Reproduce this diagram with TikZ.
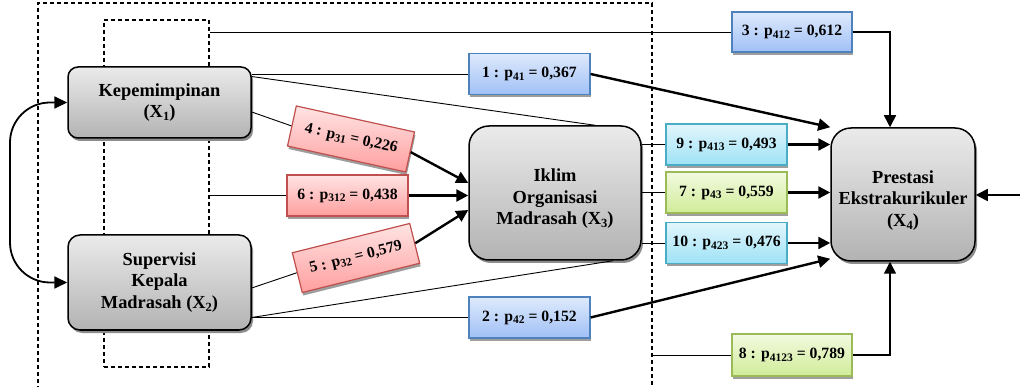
\documentclass[tikz,border=0pt]{standalone}
\usepackage{fontspec}
\setmainfont{Liberation Serif}
\usetikzlibrary{arrows.meta,shadows,calc}

\definecolor{blueE}{RGB}{79,129,189}
\definecolor{blueT}{RGB}{222,234,252}
\definecolor{blueD}{RGB}{160,192,246}
\definecolor{redE}{RGB}{192,80,77}
\definecolor{redT}{RGB}{255,228,228}
\definecolor{redD}{RGB}{255,158,158}
\definecolor{greenE}{RGB}{155,187,89}
\definecolor{greenT}{RGB}{242,250,224}
\definecolor{greenD}{RGB}{208,236,152}
\definecolor{cyanE}{RGB}{75,172,198}
\definecolor{cyanT}{RGB}{226,246,252}
\definecolor{cyanD}{RGB}{158,226,246}

% lowered small indices
\newcommand\lo[1]{\raisebox{-2.5pt}{\fontsize{11.5}{12}\selectfont #1}}
\newcommand\xs[1]{\raisebox{-3pt}{\fontsize{12.5}{13}\selectfont #1}}
% three centred lines, drawn a little below the node centre
\newcommand\lowstack[3]{\raisebox{-6pt}[\height][\depth]{\begin{tabular}{@{}c@{}}#1\\#2\\#3\end{tabular}}}

\begin{document}
\begin{tikzpicture}[x=1pt,y=-1pt,
  varbox/.style={draw=black, line width=1.5pt, align=center, inner sep=0pt,
    top color=black!8, bottom color=black!30,
    drop shadow={shadow xshift=2pt, shadow yshift=-3pt, fill=black!45, opacity=1},
    font=\fontsize{18.4}{21.5}\selectfont\bfseries},
  coef/.style={line width=1.2pt, inner sep=0pt, minimum width=121pt, minimum height=41pt,
    drop shadow={shadow xshift=1pt, shadow yshift=-3pt, fill=black!38, opacity=1},
    font=\fontsize{15.7}{18}\selectfont\bfseries},
  bluebox/.style={coef, draw=blueE, top color=blueT, bottom color=blueD},
  redbox/.style={coef, draw=redE, top color=redT, bottom color=redD},
  greenbox/.style={coef, draw=greenE, top color=greenT, bottom color=greenD},
  cyanbox/.style={coef, draw=cyanE, top color=cyanT, bottom color=cyanD},
  dashline/.style={line width=1.3pt, dash pattern=on 4pt off 3pt},
  link/.style={line width=0.9pt},
  arr/.style={line width=2.4pt, -{Triangle[length=12pt,width=12pt]}},
]
\useasboundingbox (0,0) rectangle (1020,387);

% dashed frames
\draw[dashline] (38,390) |- (652,3) -- (652,390);
\coordinate (outerR) at (652,3);
\node[dashline, draw, minimum width=105pt, minimum height=347pt, inner sep=0pt] (inner) at (156.5,193.5) {};

% variables
\node[varbox, rounded corners=10pt, minimum width=183pt, minimum height=71pt] (k) at (159.5,102.5)
  {Kepemimpinan\\(X\xs{1})};
\node[varbox, rounded corners=12pt, minimum width=183pt, minimum height=95pt] (s) at (159.5,282.5)
  {Supervisi\\Kepala\\Madrasah (X\xs{2})};
\node[varbox, rounded corners=20pt, minimum width=172pt, minimum height=134pt] (i) at (555,193)
  {\lowstack{Iklim}{Organisasi}{Madrasah (X\xs{3})}};
\node[varbox, rounded corners=20pt, minimum width=144pt, minimum height=133pt] (p) at (903,194.5)
  {\lowstack{Prestasi}{Ekstrakurikuler}{(X\xs{4})}};

% path coefficients
\node[bluebox] (b1) at (529.5,74) {1 : p\lo{41} = 0,367};
\node[bluebox] (b2) at (529.5,317.5) {2 : p\lo{42} = 0,152};
\node[bluebox, minimum width=120pt, minimum height=40pt] (b3) at (792,32) {3 : p\lo{412} = 0,612};
\node[redbox, rotate=-12.4] (b4) at (351,139) {4 : p\lo{31} = 0,226};
\node[redbox, rotate=14] (b5) at (356,258) {5 : p\lo{32} = 0,579};
\node[redbox] (b6) at (347.5,195.5) {6 : p\lo{312} = 0,438};
\node[greenbox] (b7) at (726.5,192.5) {7 : p\lo{43} = 0,559};
\node[greenbox, minimum width=120pt, minimum height=42pt] (b8) at (792,355) {8 : p\lo{4123} = 0,789};
\node[cyanbox] (b9) at (726.5,144.5) {9 : p\lo{413} = 0,493};
\node[cyanbox] (b10) at (726.5,243) {10 : p\lo{423} = 0,476};

% connectors into the coefficient boxes
\draw[link] (k.east |- b1.west) -- (b1.west);
\draw[link] ([yshift=26pt]k.east) -- ($(i.north)+(40,0)$);
\draw[link] ([yshift=-9.5pt]k.east) -- (b4.west);
\draw[link] (inner.east |- b6.west) -- (b6.west);
\draw[link] (inner.east |- b3.west) -- (b3.west);
\draw[link] ([yshift=-5.5pt]s.east) -- (b5.west);
\draw[link] (s.east |- b2.west) -- (b2.west);
\draw[link] (s.east |- b2.west) -- ($(i.south)+(58,0)$);
\draw[link] (i.east |- b9.west) -- (b9.west);
\draw[link] (i.east |- b7.west) -- (b7.west);
\draw[link] (i.east |- b10.west) -- (b10.west);
\draw[link] (outerR |- b8.west) -- (b8.west);

% effects
\draw[arr] (b4.east) -- ([yshift=10pt]i.west);
\draw[arr] (b6.east) -- (i.west |- b6.east);
\draw[arr] (b5.east) -- ([yshift=-17pt]i.west);
\draw[arr] (b1.east) -- (p.north west);
\draw[arr] (b2.east) -- ([yshift=3pt]p.south west);
\draw[arr] (b9.east) -- (p.west |- b9.east);
\draw[arr] (b7.east) -- (p.west |- b7.east);
\draw[arr] (b10.east) -- (p.west |- b10.east);
\draw[arr, line width=1.6pt] (b3.east) -| ($(p.north)+(-13,0)$);
\draw[arr, line width=1.6pt] (b8.east) -| ($(p.south)+(-13,0)$);
\coordinate (ext) at (1020,195);
\draw[arr, line width=1.6pt] (ext) -- (p.east |- ext);

% correlation between X1 and X2
\coordinate (bend) at (10,195);
\draw[line width=1.8pt, rounded corners=40pt, {Triangle[length=13pt,width=12pt]}-{Triangle[length=13pt,width=12pt]}]
  (k.west) -| (bend) |- (s.west);
\end{tikzpicture}
\end{document}
